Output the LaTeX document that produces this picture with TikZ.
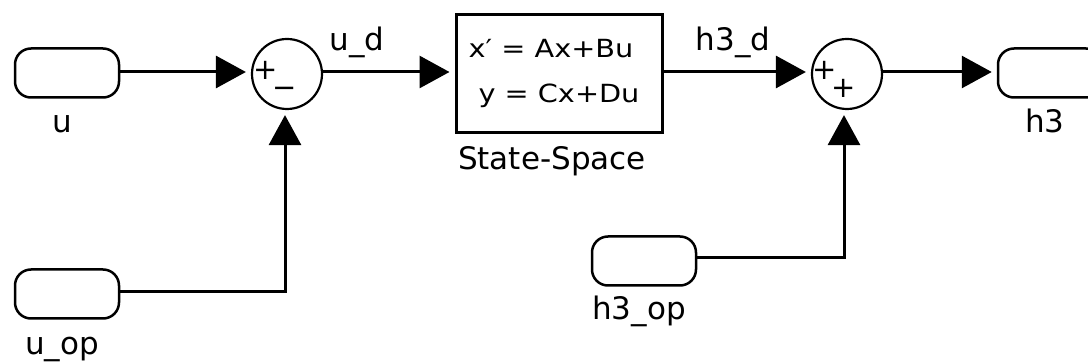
\documentclass[tikz,border=0pt]{standalone}
\usepackage{fontspec}
\setmainfont{DejaVu Sans}
\usetikzlibrary{arrows.meta}
\tikzset{
  port/.style={draw, line width=2.5pt, rounded corners=16pt, minimum width=104pt, minimum height=49pt, inner sep=0pt},
  sumblk/.style={draw, circle, line width=2.2pt, minimum size=70pt, inner sep=0pt},
  ssbox/.style={draw, line width=3pt, minimum width=206pt, minimum height=118pt, inner sep=0pt},
  lbl/.style={anchor=base, inner sep=0pt, font=\fontsize{31}{31}\selectfont},
  eqn/.style={anchor=base, inner sep=0pt, font=\fontsize{25}{25}\selectfont, xscale=1.15},
  sgn/.style={inner sep=0pt, text height=18pt, text depth=0pt, font=\fontsize{29}{29}\selectfont},
  sig/.style={line width=3pt, -{Triangle[length=30pt,width=32pt]}, shorten >=5pt},
  wire/.style={line width=3pt}
}
\newcommand{\sgnbox}[1]{\makebox[15pt]{#1}}
\begin{document}
\begin{tikzpicture}[x=1pt,y=-1pt]
\useasboundingbox (0,0) rectangle (1088,363);
\clip (0,0) rectangle (1088,363);
% blocks
\node[port] (u) at (67,73) {};
\node[port] (uop) at (67,294) {};
\node[port] (h3op) at (644,261) {};
\node[port] (h3) at (1050,73) {};
\node[sumblk] (s1) at (287,74) {};
\node[sumblk] (s2) at (847,74) {};
\node[ssbox] (ss) at (559,74) {};
% texts
\node[eqn] (eq1) at (551,58) {x′ = Ax+Bu};
\node[eqn] (eq2) at (559,103) {y = Cx+Du};
\node[lbl] (lu) at (62,133) {u};
\node[lbl] (luop) at (62,355) {u\_op};
\node[lbl] (lh3op) at (639,320) {h3\_op};
\node[lbl] (lh3) at (1045,133) {h3};
\node[lbl] (lss) at (552,170) {State-Space};
\node[lbl] (lud) at (357,51) {u\_d};
\node[lbl] (lh3d) at (733,51) {h3\_d};
\node[sgn] (p1) at (266,71) {\sgnbox{+}};
\node[sgn] (m1) at (285,89) {\sgnbox{−}};
\node[sgn] (p2) at (825,71) {\sgnbox{+}};
\node[sgn] (p3) at (844,89) {\sgnbox{+}};
% connectors
\draw[sig] (u.east |- 0,72) -- (s1.west |- 0,72);
\draw[sig] (s1.east |- 0,72) -- (ss.west |- 0,72);
\draw[sig] (ss.east |- 0,72) -- (s2.west |- 0,72);
\draw[sig] (s2.east |- 0,72) -- (h3.west |- 0,72);
\draw[wire] (uop.east |- 0,292) -| (285,180);
\draw[sig] (285,180) -- (s1.south -| 285,0);
\draw[wire] (h3op.east |- 0,258) -| (844,180);
\draw[sig] (844,180) -- (s2.south -| 844,0);
\end{tikzpicture}
\end{document}
